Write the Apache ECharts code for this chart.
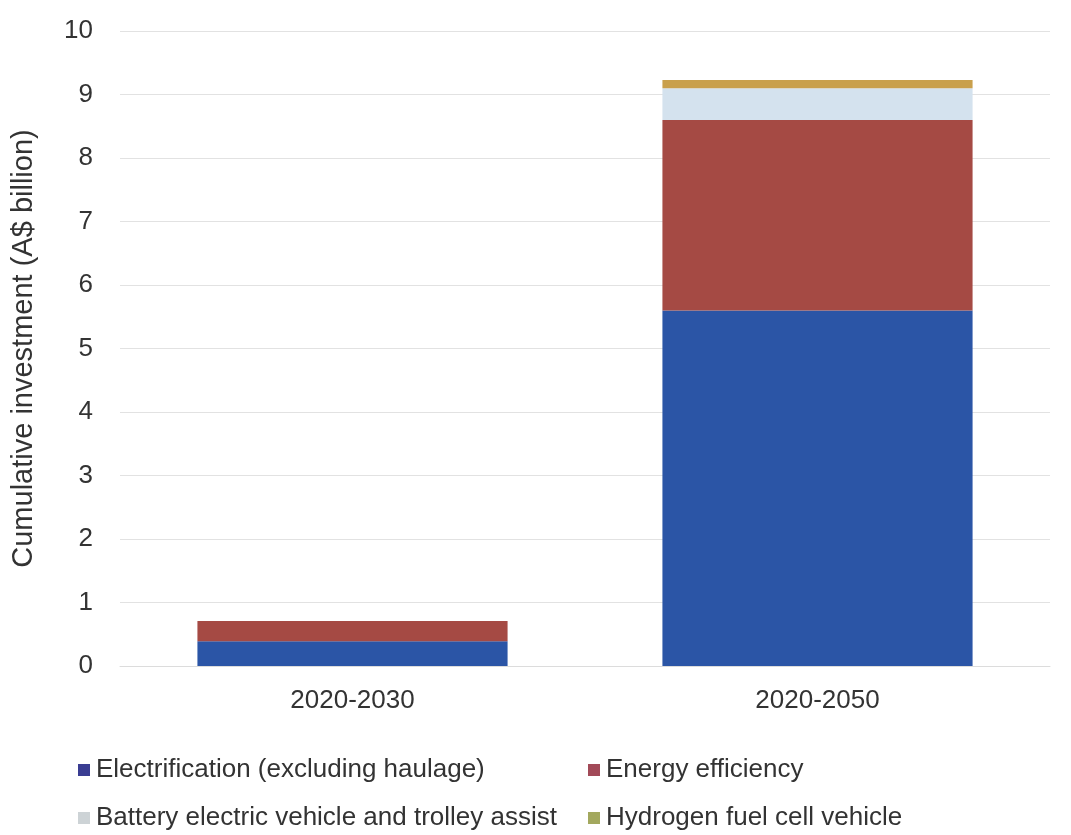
<!DOCTYPE html>
<html><head><meta charset="utf-8">
<script src="https://cdn.jsdelivr.net/npm/echarts@6/dist/echarts.min.js"></script>
<style>html,body{margin:0;padding:0;background:#fff}#c{width:1071px;height:835px}</style>
</head><body><div id="c"></div>
<script>
const categories = ['2020-2030', '2020-2050'];
const electrification = [0.39, 5.6];
const energyEfficiency = [0.32, 3.0];
const batteryTrolley = [0.0, 0.5];
const hydrogen = [0.0, 0.13];
const yTicks = [0, 10, 1];

const chart = echarts.init(document.getElementById('c'));
const font = 'Liberation Sans, Arial, sans-serif';
const mk = (name, data, color) => ({
  name, type: 'bar', stack: 's', data, barWidth: '66.7%',
  itemStyle: { color }, emphasis: { disabled: true }
});
const legendText = { color: '#333', fontSize: 26, lineHeight: 26, fontFamily: font, padding: [0, 0, 0, 1] };
chart.setOption({
  animation: false,
  grid: { left: 120, right: 21, top: 31, bottom: 169 },
  xAxis: {
    type: 'category', data: categories,
    axisLine: { show: true, lineStyle: { color: '#dcdcdc' } },
    axisTick: { show: false },
    axisLabel: { color: '#333', fontSize: 26, fontFamily: font, margin: 22 }
  },
  yAxis: {
    type: 'value', min: yTicks[0], max: yTicks[1], interval: yTicks[2],
    name: 'Cumulative investment (A$ billion)', nameLocation: 'middle', nameGap: 82,
    nameTextStyle: { color: '#333', fontSize: 29, fontFamily: font },
    axisLine: { show: false }, axisTick: { show: false },
    axisLabel: { color: '#333', fontSize: 26, fontFamily: font, margin: 27 },
    splitLine: { lineStyle: { color: '#e2e2e2' } }
  },
  legend: [
    { data: [
        { name: 'Electrification (excluding haulage)', icon: 'rect', itemStyle: { color: '#3a3d92' } },
        { name: 'Battery electric vehicle and trolley assist', icon: 'rect', itemStyle: { color: '#cdd3d6' } }
      ],
      orient: 'vertical', left: 78, top: 757, padding: 0, itemGap: 22, itemWidth: 12, itemHeight: 12,
      textStyle: legendText },
    { data: [
        { name: 'Energy efficiency', icon: 'rect', itemStyle: { color: '#a24a58' } },
        { name: 'Hydrogen fuel cell vehicle', icon: 'rect', itemStyle: { color: '#a3a85e' } }
      ],
      orient: 'vertical', left: 588, top: 757, padding: 0, itemGap: 22, itemWidth: 12, itemHeight: 12,
      textStyle: legendText }
  ],
  series: [
    mk('Electrification (excluding haulage)', electrification, '#2b55a6'),
    mk('Energy efficiency', energyEfficiency, '#a54a44'),
    mk('Battery electric vehicle and trolley assist', batteryTrolley, '#d4e2ee'),
    mk('Hydrogen fuel cell vehicle', hydrogen, '#c9a04c')
  ]
});
</script></body></html>
